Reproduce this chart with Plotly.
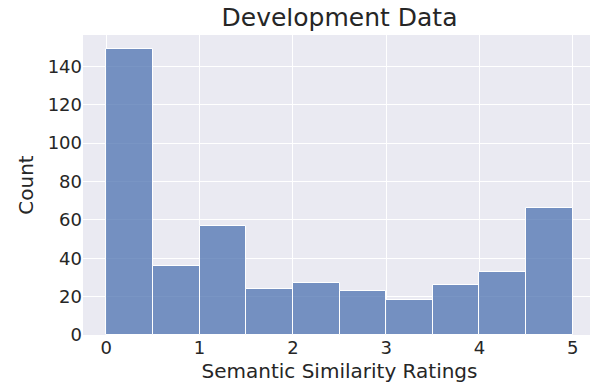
import plotly.graph_objects as go

bin_starts = [0.0, 0.5, 1.0, 1.5, 2.0, 2.5, 3.0, 3.5, 4.0, 4.5]
bin_width = 0.5
counts = [149, 36, 57, 24, 27, 23, 18, 26, 33, 66]
x_ticks = [0, 1, 2, 3, 4, 5]
y_ticks = [0, 20, 40, 60, 80, 100, 120, 140]

centers = [s + bin_width / 2 for s in bin_starts]

fig = go.Figure(go.Bar(
    x=centers, y=counts, width=bin_width,
    marker=dict(color="rgba(76,114,176,0.75)", line=dict(color="white", width=1)),
))

# page body has an 8px default margin, so the figure is shifted by 8px
font = "DejaVu Sans, sans-serif"
fig.update_layout(
    width=590, height=377,
    margin=dict(l=75, r=2, t=27, b=50, autoexpand=False),
    paper_bgcolor="white", plot_bgcolor="#EAEAF2",
    font=dict(family=font, color="#262626", size=18),
    title=dict(text="Development Data", x=0.5, xanchor="center", xref="paper",
               yref="container", y=1.0, yanchor="top",
               font=dict(size=25, color="#262626")),
    showlegend=False, bargap=0,
)
fig.update_xaxes(range=[-0.25, 5.25], tickvals=x_ticks, showgrid=True, gridcolor="white",
                 gridwidth=1, zeroline=False, showline=False, ticks="", automargin=False,
                 title=dict(text="Semantic Similarity Ratings", standoff=6, font=dict(size=20)),
                 tickfont=dict(size=18))
fig.update_yaxes(range=[0, 156.3], tickvals=y_ticks, showgrid=True, gridcolor="white",
                 gridwidth=1, zeroline=False, showline=False, ticks="", automargin=False,
                 title=dict(text="Count", standoff=8, font=dict(size=20)),
                 tickfont=dict(size=18))
fig.write_html("out.html")
